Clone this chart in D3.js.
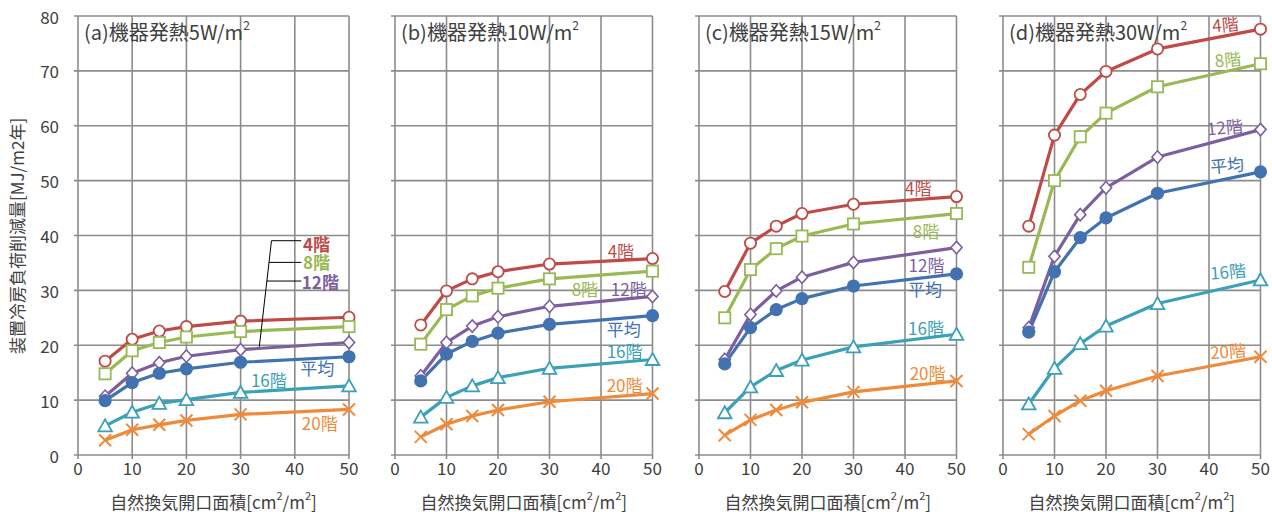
<!DOCTYPE html>
<html><head><meta charset="utf-8">
<script src="https://cdn.jsdelivr.net/npm/d3@7"></script>
<style>
body{margin:0;background:#fff}
text{font-family:"Noto Sans CJK JP","Noto Sans",sans-serif}
</style>
</head><body><svg id="c" width="1272" height="512"></svg>
<script>
// ---------- data ----------
const xValues = [5, 10, 15, 20, 30, 50];
const seriesNames = ["4階", "8階", "12階", "平均", "16階", "20階"];
const panelTitles = ["(a)機器発熱5W/m", "(b)機器発熱10W/m", "(c)機器発熱15W/m", "(d)機器発熱30W/m"];
const xTicks = [0, 10, 20, 30, 40, 50];
const yTicks = [0, 10, 20, 30, 40, 50, 60, 70, 80];
const yTitle = "装置冷房負荷削減量[MJ/m2年]";
const xTitleMain = "自然換気開口面積[cm";

// rows follow seriesNames order: 4階, 8階, 12階, 平均, 16階, 20階
const panelA = [
  [17.1, 21.1, 22.6, 23.4, 24.4, 25.1],
  [14.8, 19.0, 20.5, 21.5, 22.5, 23.4],
  [10.7, 14.9, 16.8, 18.0, 19.2, 20.5],
  [9.9, 13.2, 14.9, 15.7, 16.9, 17.9],
  [5.3, 7.8, 9.4, 10.1, 11.4, 12.6],
  [2.7, 4.6, 5.5, 6.3, 7.4, 8.3]
];
const panelB = [
  [23.7, 29.9, 32.1, 33.4, 34.8, 35.8],
  [20.2, 26.5, 29.0, 30.4, 32.1, 33.5],
  [14.4, 20.5, 23.5, 25.2, 27.1, 28.9],
  [13.5, 18.4, 20.7, 22.2, 23.8, 25.4],
  [6.9, 10.5, 12.6, 14.1, 15.8, 17.4],
  [3.3, 5.6, 7.1, 8.2, 9.7, 11.2]
];
const panelC = [
  [29.8, 38.6, 41.7, 44.0, 45.7, 47.1],
  [25.0, 33.8, 37.6, 39.9, 42.1, 44.0],
  [17.4, 25.6, 29.9, 32.4, 35.1, 37.8],
  [16.6, 23.2, 26.5, 28.5, 30.8, 33.0],
  [7.7, 12.4, 15.4, 17.3, 19.7, 22.0],
  [3.6, 6.4, 8.2, 9.6, 11.5, 13.5]
];
const panelD = [
  [41.7, 58.3, 65.7, 69.9, 74.0, 77.6],
  [34.2, 50.0, 58.0, 62.3, 67.1, 71.3],
  [23.2, 36.2, 43.8, 48.7, 54.3, 59.3],
  [22.4, 33.4, 39.6, 43.2, 47.7, 51.6],
  [9.3, 15.8, 20.3, 23.5, 27.6, 31.9],
  [3.8, 7.1, 9.9, 11.7, 14.4, 17.9]
];
const panels = [panelA, panelB, panelC, panelD];

// ---------- layout & styles ----------
const colors = ["#be4b48", "#98b954", "#7d5fa0", "#4272b0", "#3ba0b8", "#ee8a3a"];
const markers = ["circle", "square", "diamond", "dot", "triangle", "cross"];
const panelX = [[78, 349], [395, 652.5], [699, 956.5], [1003, 1260.5]];
const plotTop = 16, plotBottom = 455;
// label anchors (data units) [x, y] per panel per series, and rotation per panel
const labelPos = [
  [[41.5, 38.6], [41.5, 35.2], [41.3, 31.6], [41.0, 15.9], [31.9, 13.7], [41.3, 6.0]],
  [[41.3, 37.2], [34.3, 30.4], [41.9, 30.4], [41.1, 23.0], [41.1, 19.1], [41.1, 12.8]],
  [[40.0, 48.8], [41.5, 41.0], [40.7, 34.8], [40.6, 30.3], [40.6, 23.3], [40.9, 15.1]],
  [[40.6, 78.4], [41.1, 72.0], [39.6, 59.6], [40.2, 52.7], [40.2, 33.3], [40.2, 18.8]]
];
const labelRotate = [0, 0, 0, -5];
const gridColor = "#8c8c8c", textColor = "#404040";

const svg = d3.select("#c");

panels.forEach((data, pi) => {
  const x = d3.scaleLinear().domain([0, 50]).range(panelX[pi]);
  const y = d3.scaleLinear().domain([0, 80]).range([plotBottom, plotTop]);
  const g = svg.append("g");

  // grid
  g.selectAll(".vg").data(xTicks).join("line")
    .attr("x1", d => x(d)).attr("x2", d => x(d))
    .attr("y1", plotTop).attr("y2", plotBottom + 4)
    .attr("stroke", gridColor).attr("stroke-width", 1.6);
  g.selectAll(".hg").data(yTicks).join("line")
    .attr("y1", d => y(d)).attr("y2", d => y(d))
    .attr("x1", x(0) - 4).attr("x2", x(50))
    .attr("stroke", gridColor).attr("stroke-width", 1.6);

  // x tick labels
  g.selectAll(".xt").data(xTicks).join("text")
    .attr("x", d => x(d)).attr("y", 467)
    .attr("text-anchor", "middle").attr("dominant-baseline", "central")
    .attr("font-size", 17).attr("fill", textColor).text(d => d);
  if (pi === 0) {
    g.selectAll(".yt").data(yTicks).join("text")
      .attr("x", x(0) - 19).attr("y", d => y(d))
      .attr("text-anchor", "end").attr("dominant-baseline", "central")
      .attr("font-size", 17).attr("fill", textColor).text(d => d);
  }

  // x axis title
  const xt = g.append("text").attr("x", (x(0) + x(50)) / 2).attr("y", 501)
    .attr("text-anchor", "middle").attr("dominant-baseline", "central")
    .attr("font-size", 17).attr("fill", textColor);
  xt.append("tspan").text(xTitleMain);
  xt.append("tspan").attr("font-size", 11).attr("dy", -6).text("2");
  xt.append("tspan").attr("dy", 6).text("/m");
  xt.append("tspan").attr("font-size", 11).attr("dy", -6).text("2");
  xt.append("tspan").attr("dy", 6).text("]");

  // panel title
  const tt = g.append("text").attr("x", x(0) + 6).attr("y", 31)
    .attr("dominant-baseline", "central")
    .attr("font-size", 20).attr("fill", textColor);
  tt.append("tspan").text(panelTitles[pi]);
  tt.append("tspan").attr("font-size", 12).attr("dy", -7).text("2");

  // lines
  const line = d3.line().x((d, i) => x(xValues[i])).y(d => y(d));
  data.forEach((vals, si) => {
    g.append("path").attr("d", line(vals)).attr("fill", "none")
      .attr("stroke", colors[si]).attr("stroke-width", 3.2).attr("stroke-linejoin", "round");
  });

  // markers
  data.forEach((vals, si) => {
    const c = colors[si];
    vals.forEach((v, i) => {
      const cx = x(xValues[i]), cy = y(v);
      const m = markers[si];
      if (m === "circle") {
        g.append("circle").attr("cx", cx).attr("cy", cy).attr("r", 5.6)
          .attr("fill", "#fff").attr("stroke", c).attr("stroke-width", 1.8);
      } else if (m === "dot") {
        g.append("circle").attr("cx", cx).attr("cy", cy).attr("r", 6.6).attr("fill", c);
      } else if (m === "square") {
        g.append("rect").attr("x", cx - 5.6).attr("y", cy - 5.6).attr("width", 11.2).attr("height", 11.2)
          .attr("fill", "#fff").attr("stroke", c).attr("stroke-width", 1.8);
      } else if (m === "diamond") {
        g.append("path").attr("d", `M${cx},${cy - 6.2}L${cx + 5.6},${cy}L${cx},${cy + 6.2}L${cx - 5.6},${cy}Z`)
          .attr("fill", "#fff").attr("stroke", c).attr("stroke-width", 1.6);
      } else if (m === "triangle") {
        g.append("path").attr("d", `M${cx},${cy - 6.5}L${cx + 6.8},${cy + 5.5}L${cx - 6.8},${cy + 5.5}Z`)
          .attr("fill", "#fff").attr("stroke", c).attr("stroke-width", 1.8).attr("stroke-linejoin", "miter");
      } else if (m === "cross") {
        g.append("path").attr("d", `M${cx - 6},${cy - 6}L${cx + 6},${cy + 6}M${cx - 6},${cy + 6}L${cx + 6},${cy - 6}`)
          .attr("stroke", c).attr("stroke-width", 2);
      }
    });
  });

  // leader lines in panel (a)
  if (pi === 0) {
    const lk = "#000";
    const top = [35.7, 39.05], bot = [33.45, 19.7];
    g.append("line").attr("x1", x(top[0])).attr("y1", y(top[1])).attr("x2", x(bot[0])).attr("y2", y(bot[1]))
      .attr("stroke", lk).attr("stroke-width", 1);
    [[35.7, 39.05], [35.25, 35.1], [34.8, 31.7]].forEach(p => {
      g.append("line").attr("x1", x(p[0])).attr("y1", y(p[1])).attr("x2", x(41.2)).attr("y2", y(p[1]))
        .attr("stroke", lk).attr("stroke-width", 1);
    });
  }

  // series labels
  seriesNames.forEach((name, si) => {
    const p = labelPos[pi][si];
    const lx = x(p[0]), ly = y(p[1]);
    const bold = pi === 0 && si < 3;
    g.append("text").attr("x", lx).attr("y", ly)
      .attr("dominant-baseline", "central")
      .attr("transform", `rotate(${labelRotate[pi]},${lx},${ly})`)
      .attr("font-size", 17).attr("font-weight", bold ? "bold" : "normal")
      .attr("fill", colors[si]).text(name);
  });
});

// y axis title
svg.append("text").attr("transform", "translate(16,236) rotate(-90)")
  .attr("text-anchor", "middle").attr("dominant-baseline", "central")
  .attr("font-size", 17).attr("fill", textColor).text(yTitle);
</script>
</body></html>
